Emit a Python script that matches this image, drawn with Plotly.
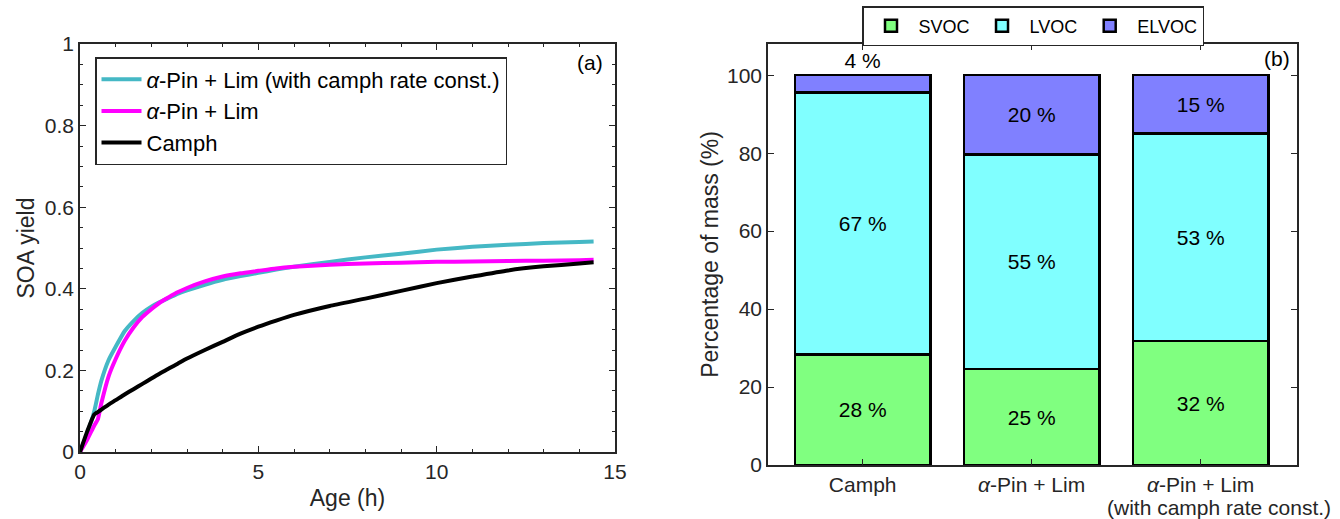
import plotly.graph_objects as go

# ---- Panel (a) data: SOA yield vs age ----
hours = [0, 0.2, 0.4, 0.5, 0.6, 0.8, 1.0, 1.25, 1.5, 1.75, 2.0, 2.25, 2.5, 2.75, 3.0,
         3.5, 4.0, 4.5, 5.0, 5.5, 6.0, 7.0, 8.0, 9.0, 10.0, 11.0, 12.0, 13.0, 14.0, 14.4]
pin_lim_camph_rate = [0, 0.045, 0.10, 0.14, 0.175, 0.225, 0.258, 0.296, 0.321, 0.341, 0.356,
                      0.368, 0.378, 0.388, 0.396, 0.410, 0.422, 0.431, 0.439, 0.447, 0.454,
                      0.466, 0.477, 0.486, 0.496, 0.503, 0.508, 0.512, 0.515, 0.516]
pin_lim = [0, 0.03, 0.065, 0.08, 0.12, 0.185, 0.228, 0.272, 0.305, 0.331, 0.350, 0.367,
           0.380, 0.392, 0.402, 0.418, 0.430, 0.438, 0.444, 0.450, 0.454, 0.459, 0.462,
           0.464, 0.466, 0.467, 0.468, 0.469, 0.470, 0.471]
camph = [0, 0.05, 0.092, 0.098, 0.104, 0.116, 0.127, 0.141, 0.154, 0.167, 0.180, 0.193,
         0.205, 0.217, 0.229, 0.250, 0.270, 0.290, 0.307, 0.322, 0.336, 0.358, 0.376,
         0.395, 0.414, 0.430, 0.445, 0.455, 0.462, 0.465]
line_names = ["<i>α</i>-Pin + Lim (with camph rate const.)", "<i>α</i>-Pin + Lim", "Camph"]
line_colors = ["#45B8C5", "#FF00FF", "#000000"]

# ---- Panel (b) data: volatility distribution ----
bar_pos = [1, 2, 3]
bar_labels = ["Camph", "<i>α</i>-Pin + Lim", "<i>α</i>-Pin + Lim"]
bar_sublabel = "(with camph rate const.)"
svoc = [28.4, 24.6, 31.8]
lvoc = [67.2, 55.1, 53.3]
elvoc = [4.4, 20.3, 14.9]
class_names = ["SVOC", "LVOC", "ELVOC"]
class_colors = ["#80FF80", "#80FFFF", "#8080FF"]

FONT = "Liberation Sans, Arial, sans-serif"
AX = "#262626"

# figure geometry (pixels)
W, H = 1340, 519
ML, MR, MT, MB = 80, 43, 44, 54
PW, PH = W - ML - MR, H - MT - MB


def px(xp):
    return (xp - ML) / PW


def py(yp):
    return (H - MB - yp) / PH


fig = go.Figure()

for name, ys, col in zip(line_names, [pin_lim_camph_rate, pin_lim, camph], line_colors):
    fig.add_trace(go.Scatter(x=hours, y=ys, mode="lines", name=name,
                             line=dict(color=col, width=4, shape="spline", smoothing=0.5),
                             xaxis="x", yaxis="y", legend="legend"))

for name, vals, col in zip(class_names, [svoc, lvoc, elvoc], class_colors):
    txt = [f"{round(v)} %" for v in vals]
    if name == "ELVOC":
        pos = ["outside" if v < 8 else "inside" for v in vals]
    else:
        pos = "inside"
    fig.add_trace(go.Bar(x=bar_pos, y=vals, name=name,
                         marker=dict(color=col, line=dict(color="black", width=2.5)),
                         text=txt, textposition=pos, insidetextanchor="middle",
                         textfont=dict(size=21, color="black", family=FONT),
                         cliponaxis=False, width=0.8,
                         xaxis="x2", yaxis="y2", legend="legend2"))

axis_common = dict(showline=True, linecolor=AX, linewidth=1.5, mirror="ticks", ticks="inside",
                   tickcolor=AX, tickwidth=1.3, ticklen=6, showgrid=False, zeroline=False,
                   automargin=False, tickfont=dict(size=21, color=AX, family=FONT))
title_font = dict(size=23, color=AX, family=FONT)

fig.update_layout(
    width=W, height=H, margin=dict(l=ML, r=MR, t=MT, b=MB, autoexpand=False),
    paper_bgcolor="white", plot_bgcolor="white",
    font=dict(family=FONT, color="black"),
    barmode="stack", showlegend=True,
    xaxis=dict(domain=[0, px(615)], range=[0, 15], tickvals=[0, 5, 10, 15], anchor="y",
               minor=dict(dtick=1, ticks="inside", ticklen=3, tickcolor=AX, showgrid=False),
               title=dict(text="Age (h)", font=title_font, standoff=8), **axis_common),
    yaxis=dict(domain=[py(452), 1], range=[0, 1], tickvals=[0, 0.2, 0.4, 0.6, 0.8, 1],
               ticktext=["0", "0.2", "0.4", "0.6", "0.8", "1"], anchor="x",
               minor=dict(dtick=0.05, ticks="inside", ticklen=3, tickcolor=AX, showgrid=False),
               title=dict(text="SOA yield", font=title_font, standoff=4), **axis_common),
    xaxis2=dict(domain=[px(768), 1], range=[0.44, 3.57], tickvals=bar_pos, ticktext=bar_labels,
                anchor="y2", **axis_common),
    yaxis2=dict(domain=[0, 1], range=[0, 108], tickvals=[0, 20, 40, 60, 80, 100],
                anchor="x2",
                title=dict(text="Percentage of mass (%)", font=title_font, standoff=2),
                **axis_common),
    legend=dict(x=px(95), y=py(57), xanchor="left", yanchor="top", bgcolor="white",
                bordercolor=AX, borderwidth=1.5, font=dict(size=22, color="black", family=FONT),
                tracegroupgap=0, traceorder="normal", itemwidth=40),
    legend2=dict(x=1033 / W, y=1 - 6 / H, xref="container", yref="container",
                 xanchor="center", yanchor="top", orientation="h",
                 bgcolor="white", bordercolor=AX, borderwidth=1.5, traceorder="normal",
                 itemwidth=45, font=dict(size=18, color="black", family=FONT)),
    annotations=[
        dict(text="(a)", x=px(605), y=py(62), xref="paper", yref="paper", showarrow=False,
             xanchor="right", yanchor="middle", font=dict(size=21, color="black", family=FONT)),
        dict(text="(b)", x=px(1292), y=py(58), xref="paper", yref="paper", showarrow=False,
             xanchor="right", yanchor="middle", font=dict(size=21, color="black", family=FONT)),
        dict(text=bar_sublabel, x=bar_pos[2], xref="x2", xshift=18, y=py(508), yref="paper",
             showarrow=False, xanchor="center", yanchor="middle",
             font=dict(size=21, color=AX, family=FONT)),
    ],
)

fig.write_html("out.html", config={"displayModeBar": False},
               post_script="document.body.style.margin='0';")
